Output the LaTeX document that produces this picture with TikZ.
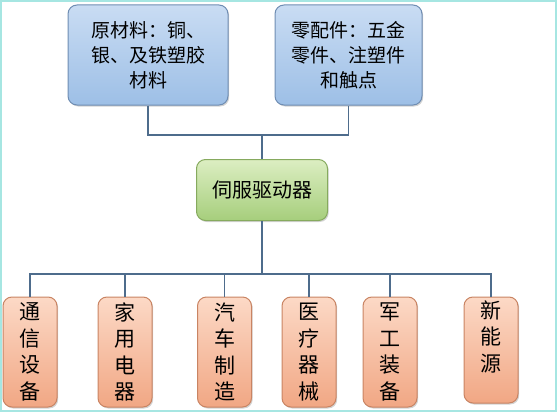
\documentclass[tikz,border=0pt]{standalone}
\usepackage{fontspec}
\setmainfont{Noto Sans CJK SC}
\usetikzlibrary{shadows,calc}
\definecolor{bluetop}{HTML}{C9DCF3}
\definecolor{bluebot}{HTML}{9DBFE6}
\definecolor{blueline}{HTML}{6F8DB3}
\definecolor{greentop}{HTML}{DCEEC2}
\definecolor{greenbot}{HTML}{A6CE7C}
\definecolor{greenline}{HTML}{86AA5E}
\definecolor{orangetop}{HTML}{FCD9C6}
\definecolor{orangebot}{HTML}{F1A784}
\definecolor{orangeline}{HTML}{C98463}
\definecolor{linkcol}{HTML}{4E6C8C}
\definecolor{framecol}{HTML}{A6E6E2}

\begin{document}
\begin{tikzpicture}[x=1pt,y=-1pt,
    box/.style={rounded corners=9pt, line width=1pt, align=center, inner sep=1pt,
                drop shadow={opacity=0.35, shadow xshift=1.2pt, shadow yshift=-1.5pt}},
    srcbox/.style={box, draw=blueline, top color=bluetop, bottom color=bluebot,
                   minimum height=100pt, font=\fontsize{19}{25}\selectfont},
    corebox/.style={box, draw=greenline, top color=greentop, bottom color=greenbot,
                    minimum width=131pt, minimum height=61pt, font=\fontsize{20}{24}\selectfont},
    usebox/.style={box, draw=orangeline, top color=orangetop, bottom color=orangebot,
                   minimum width=54pt, minimum height=110pt, font=\fontsize{21}{26.5}\selectfont},
    link/.style={draw=linkcol, line width=1.5pt}]
  % frame
  \draw[framecol, line width=2pt] (1,1) rectangle (556,411);
  \useasboundingbox (0,0) rectangle (557,412);

  % sources
  \node[srcbox, minimum width=160pt] (raw) at (148,55) {原材料：铜、\\银、及铁塑胶\\材料};
  \node[srcbox, minimum width=147pt] (parts) at (348.5,55) {零配件：五金\\零件、注塑件\\和触点};

  % core
  \node[corebox] (servo) at (262,190) {伺服驱动器};

  % applications
  \node[usebox] (comm) at (30,352) {通\\信\\设\\备};
  \node[usebox] (home) at (125,352) {家\\用\\电\\器};
  \node[usebox] (auto) at (224.5,352) {汽\\车\\制\\造};
  \node[usebox] (med) at (309,352) {医\\疗\\器\\械};
  \node[usebox] (mil) at (390,352) {军\\工\\装\\备};
  \node[usebox, minimum height=106pt] (energy) at (491,350) {新\\能\\源\\\phantom{源}};

  % connectors
  \coordinate (topbus) at (262,135);
  \coordinate (botbus) at (262,274);
  \draw[link] (raw.south) |- (topbus) -| (parts.south);
  \draw[link] (topbus) -- (servo.north);
  \draw[link] (servo.south) -- (botbus);
  \foreach \n in {comm,home,auto,med,mil,energy}
    \draw[link] (botbus) -| (\n.north);
\end{tikzpicture}
\end{document}
